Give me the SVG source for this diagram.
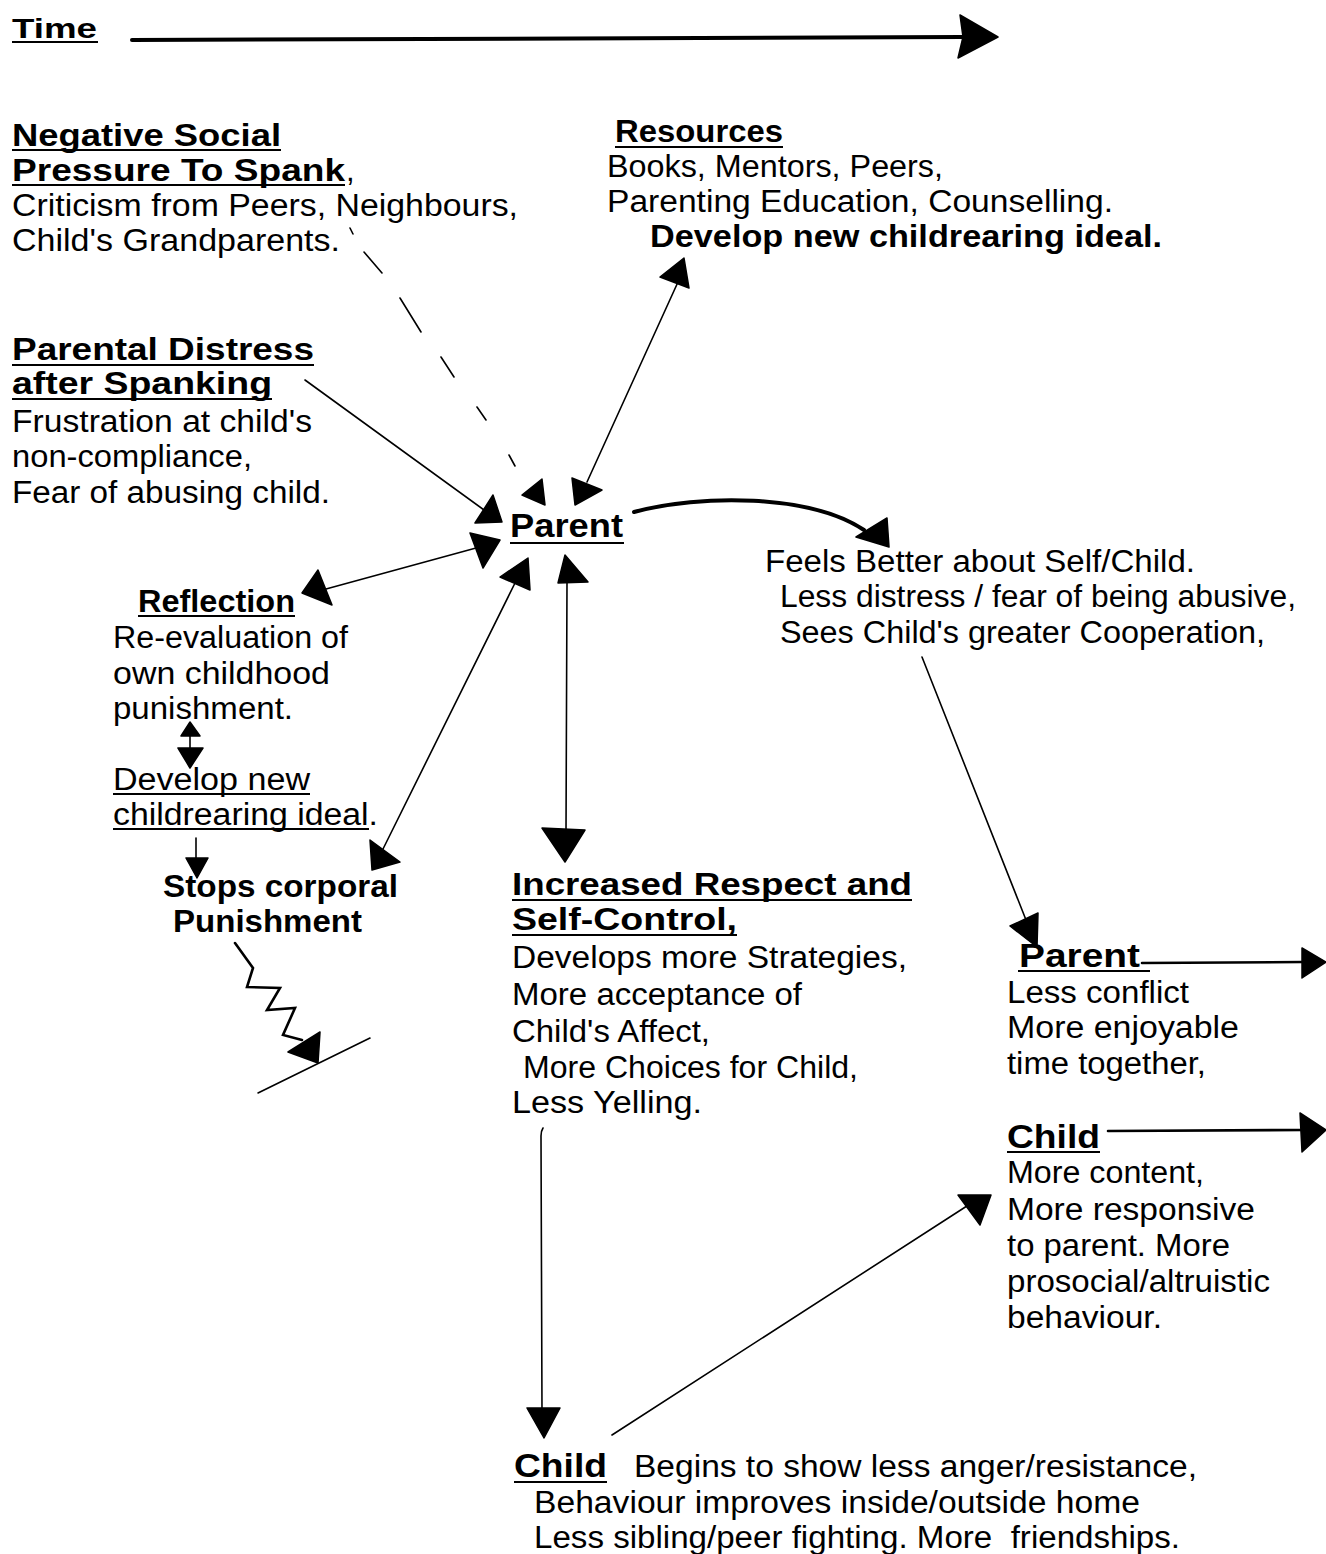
<svg xmlns="http://www.w3.org/2000/svg" width="1326" height="1554" viewBox="0 0 1326 1554">
<style>
text{font-family:"Liberation Sans",Arial,Helvetica,sans-serif;font-size:31px;fill:#000}
.b{font-weight:bold}
.ul{stroke:#000;stroke-width:2.2;fill:none}
.ln{stroke:#000;stroke-width:1.6;fill:none;stroke-linecap:round}
.thk{stroke:#000;stroke-width:4;fill:none;stroke-linecap:round}
.med{stroke:#000;stroke-width:2.6;fill:none;stroke-linecap:round}
.ah{fill:#000;stroke:#000;stroke-width:1.5;stroke-linejoin:round}
</style>
<rect width="1326" height="1554" fill="#fff"/>

<g id="time">
<text class="b" x="12" y="38" style="font-size:28px" textLength="85" lengthAdjust="spacingAndGlyphs">Time</text>
<line class="ul" x1="12" y1="42" x2="98" y2="42"/>
</g>

<g id="negative-social-pressure">
<text class="b" x="12" y="146" textLength="269" lengthAdjust="spacingAndGlyphs">Negative Social</text>
<line class="ul" x1="12" y1="150" x2="281" y2="150"/>
<text class="b" x="12" y="181" textLength="333" lengthAdjust="spacingAndGlyphs">Pressure To Spank</text>
<text x="346" y="181">,</text>
<line class="ul" x1="12" y1="185" x2="345" y2="185"/>
<text x="12" y="216" textLength="506" lengthAdjust="spacingAndGlyphs">Criticism from Peers, Neighbours,</text>
<text x="12" y="251" textLength="328" lengthAdjust="spacingAndGlyphs">Child's Grandparents.</text>
</g>

<g id="resources">
<text class="b" x="615" y="142" textLength="168" lengthAdjust="spacingAndGlyphs">Resources</text>
<line class="ul" x1="615" y1="147" x2="783" y2="147"/>
<text x="607" y="177" textLength="336" lengthAdjust="spacingAndGlyphs">Books, Mentors, Peers,</text>
<text x="607" y="212" textLength="506" lengthAdjust="spacingAndGlyphs">Parenting Education, Counselling.</text>
<text class="b" x="650" y="247" textLength="512" lengthAdjust="spacingAndGlyphs">Develop new childrearing ideal.</text>
</g>

<g id="parental-distress">
<text class="b" x="12" y="360" textLength="302" lengthAdjust="spacingAndGlyphs">Parental Distress</text>
<line class="ul" x1="12" y1="365" x2="314" y2="365"/>
<text class="b" x="12" y="394" textLength="260" lengthAdjust="spacingAndGlyphs">after Spanking</text>
<line class="ul" x1="12" y1="399" x2="272" y2="399"/>
<text x="12" y="432" textLength="300" lengthAdjust="spacingAndGlyphs">Frustration at child's</text>
<text x="12" y="467" textLength="240" lengthAdjust="spacingAndGlyphs">non-compliance,</text>
<text x="12" y="503" textLength="318" lengthAdjust="spacingAndGlyphs">Fear of abusing child.</text>
</g>

<g id="parent">
<text class="b" x="510" y="537" style="font-size:34px" textLength="113" lengthAdjust="spacingAndGlyphs">Parent</text>
<line class="ul" x1="510" y1="543" x2="624" y2="543"/>
</g>

<g id="feels-better">
<text x="765" y="572" textLength="430" lengthAdjust="spacingAndGlyphs">Feels Better about Self/Child.</text>
<text x="780" y="607" textLength="516" lengthAdjust="spacingAndGlyphs">Less distress / fear of being abusive,</text>
<text x="780" y="643" textLength="485" lengthAdjust="spacingAndGlyphs">Sees Child's greater Cooperation,</text>
</g>

<g id="reflection">
<text class="b" x="138" y="612" textLength="157" lengthAdjust="spacingAndGlyphs">Reflection</text>
<line class="ul" x1="138" y1="616" x2="295" y2="616"/>
<text x="113" y="648" textLength="235" lengthAdjust="spacingAndGlyphs">Re-evaluation of</text>
<text x="113" y="684" textLength="217" lengthAdjust="spacingAndGlyphs">own childhood</text>
<text x="113" y="719" textLength="180" lengthAdjust="spacingAndGlyphs">punishment.</text>
<text x="113" y="790" textLength="197" lengthAdjust="spacingAndGlyphs">Develop new</text>
<line class="ul" x1="113" y1="794" x2="310" y2="794"/>
<text x="113" y="825" textLength="265" lengthAdjust="spacingAndGlyphs">childrearing ideal.</text>
<line class="ul" x1="113" y1="829" x2="369" y2="829"/>
</g>

<g id="stops-corporal-punishment">
<text class="b" x="163" y="897" textLength="235" lengthAdjust="spacingAndGlyphs">Stops corporal</text>
<text class="b" x="173" y="932" textLength="189" lengthAdjust="spacingAndGlyphs">Punishment</text>
</g>

<g id="increased-respect">
<text class="b" x="512" y="895" textLength="400" lengthAdjust="spacingAndGlyphs">Increased Respect and</text>
<line class="ul" x1="512" y1="900" x2="912" y2="900"/>
<text class="b" x="512" y="930" textLength="225" lengthAdjust="spacingAndGlyphs">Self-Control,</text>
<line class="ul" x1="512" y1="935" x2="737" y2="935"/>
<text x="512" y="968" textLength="395" lengthAdjust="spacingAndGlyphs">Develops more Strategies,</text>
<text x="512" y="1005" textLength="290" lengthAdjust="spacingAndGlyphs">More acceptance of</text>
<text x="512" y="1042" textLength="198" lengthAdjust="spacingAndGlyphs">Child's Affect,</text>
<text x="523" y="1078" textLength="335" lengthAdjust="spacingAndGlyphs">More Choices for Child,</text>
<text x="512" y="1113" textLength="190" lengthAdjust="spacingAndGlyphs">Less Yelling.</text>
</g>

<g id="parent-outcome">
<text class="b" x="1019" y="967" style="font-size:33px" textLength="121" lengthAdjust="spacingAndGlyphs">Parent</text>
<line class="ul" x1="1018" y1="971" x2="1150" y2="971"/>
<text x="1007" y="1003" textLength="182" lengthAdjust="spacingAndGlyphs">Less conflict</text>
<text x="1007" y="1038" textLength="232" lengthAdjust="spacingAndGlyphs">More enjoyable</text>
<text x="1007" y="1074" textLength="199" lengthAdjust="spacingAndGlyphs">time together,</text>
</g>

<g id="child-outcome">
<text class="b" x="1007" y="1148" style="font-size:34px" textLength="93" lengthAdjust="spacingAndGlyphs">Child</text>
<line class="ul" x1="1007" y1="1152" x2="1100" y2="1152"/>
<text x="1007" y="1183" textLength="197" lengthAdjust="spacingAndGlyphs">More content,</text>
<text x="1007" y="1220" textLength="248" lengthAdjust="spacingAndGlyphs">More responsive</text>
<text x="1007" y="1256" textLength="223" lengthAdjust="spacingAndGlyphs">to parent. More</text>
<text x="1007" y="1292" textLength="263" lengthAdjust="spacingAndGlyphs">prosocial/altruistic</text>
<text x="1007" y="1328" textLength="155" lengthAdjust="spacingAndGlyphs">behaviour.</text>
</g>

<g id="child">
<text class="b" x="514" y="1477" style="font-size:34px" textLength="93" lengthAdjust="spacingAndGlyphs">Child</text>
<line class="ul" x1="514" y1="1482" x2="607" y2="1482"/>
<text x="634" y="1477" textLength="563" lengthAdjust="spacingAndGlyphs">Begins to show less anger/resistance,</text>
<text x="534" y="1513" textLength="606" lengthAdjust="spacingAndGlyphs">Behaviour improves inside/outside home</text>
<text x="534" y="1548" xml:space="preserve" style="white-space:pre" textLength="646" lengthAdjust="spacingAndGlyphs">Less sibling/peer fighting. More  friendships.</text>
</g>

<g id="connectors">
<!-- time arrow -->
<line class="thk" x1="132" y1="40" x2="962" y2="37"/>
<polygon class="ah" points="960,15 998,37 958,58 963,37"/>
<!-- negative social pressure dashed -->
<path class="ln" d="M350,228 L353,234 M364,252 L382,273 M400,298 L421,332 M441,357 L454,377 M477,407 L486,420 M509,455 L515,466"/>
<polygon class="ah" points="542,479 522,495 545,505"/>
<!-- parental distress -->
<line class="ln" x1="305" y1="380" x2="484" y2="510"/>
<polygon class="ah" points="493,495 475,523 502,522"/>
<!-- resources double -->
<line class="ln" x1="678" y1="282" x2="587" y2="482"/>
<polygon class="ah" points="684,258 660,277 689,288"/>
<polygon class="ah" points="572,478 602,490 575,505"/>
<!-- reflection double -->
<line class="ln" x1="326" y1="589" x2="476" y2="548"/>
<polygon class="ah" points="318,570 302,593 332,605"/>
<polygon class="ah" points="470,533 500,540 483,568"/>
<!-- stops double -->
<line class="ln" x1="516" y1="581" x2="383" y2="849"/>
<polygon class="ah" points="500,577 528,558 530,590"/>
<polygon class="ah" points="370,840 400,862 372,870"/>
<!-- increased respect double -->
<line class="ln" x1="567" y1="582" x2="566" y2="832"/>
<polygon class="ah" points="565,555 558,583 588,582"/>
<polygon class="ah" points="542,828 585,830 565,862"/>
<!-- parent to feels better curved -->
<path class="thk" d="M634,512 C700,494 810,494 864,530"/>
<polygon class="ah" points="887,518 856,537 889,547"/>
<!-- feels better to parent outcome -->
<line class="ln" x1="922" y1="657" x2="1028" y2="925"/>
<polygon class="ah" points="1038,913 1010,926 1037,947"/>
<!-- parent outcome over time -->
<line class="med" x1="1142" y1="963" x2="1303" y2="962"/>
<polygon class="ah" points="1302,948 1326,962 1302,978"/>
<!-- child outcome over time -->
<line class="med" x1="1108" y1="1131" x2="1303" y2="1130"/>
<polygon class="ah" points="1300,1113 1326,1130 1302,1152"/>
<!-- increased respect to child -->
<path class="ln" d="M543,1128 Q541,1131 541,1136 L542,1412"/>
<polygon class="ah" points="527,1408 560,1408 544,1438"/>
<!-- child to child outcome -->
<line class="ln" x1="612" y1="1435" x2="970" y2="1204"/>
<polygon class="ah" points="958,1195 991,1195 980,1225"/>
<!-- reflection internal double arrow -->
<line class="ln" x1="190" y1="726" x2="190" y2="766"/>
<polygon class="ah" points="190,722 181,736 200,736"/>
<polygon class="ah" points="178,748 203,748 190,768"/>
<!-- develop ideal to stops -->
<line class="ln" x1="196" y1="838" x2="196" y2="864"/>
<polygon class="ah" points="186,858 208,858 197,878"/>
<!-- stops to zigzag ground -->
<polyline class="med" points="235,943 253,968 247,987 280,988 267,1010 295,1008 283,1035 302,1040"/>
<polygon class="ah" points="320,1032 288,1052 318,1063"/>
<line class="ln" x1="258" y1="1093" x2="370" y2="1038"/>
</g>
</svg>
